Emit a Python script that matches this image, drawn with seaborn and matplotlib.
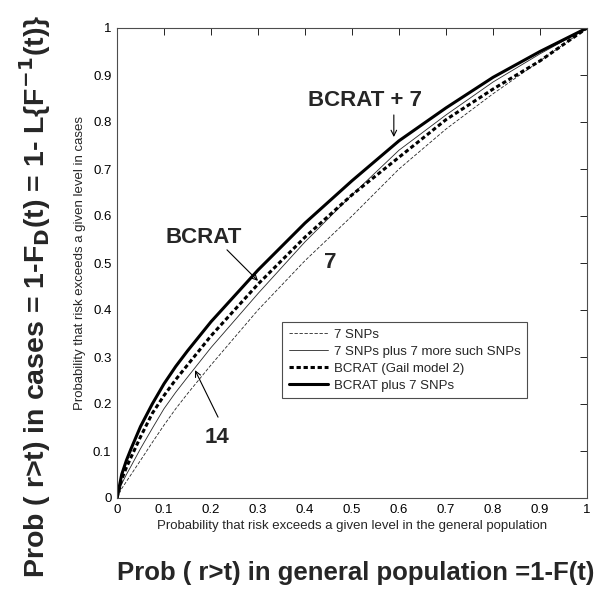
import matplotlib
matplotlib.use("Agg")
import matplotlib.pyplot as plt
import seaborn as sns
import pandas as pd

# Read-off values (x = P(risk > t) in general population)
x_pts = [0.0, 0.01, 0.02, 0.03, 0.05, 0.075, 0.1, 0.125, 0.15, 0.2, 0.3, 0.4, 0.5, 0.6, 0.7, 0.8, 0.9, 1.0]
snps7 = [0.0, 0.02, 0.035, 0.05, 0.08, 0.118, 0.155, 0.19, 0.222, 0.283, 0.40, 0.505, 0.60, 0.70, 0.785, 0.86, 0.93, 1.0]
snps14 = [0.0, 0.03, 0.05, 0.068, 0.105, 0.148, 0.19, 0.225, 0.257, 0.32, 0.435, 0.545, 0.645, 0.74, 0.815, 0.885, 0.945, 1.0]
bcrat = [0.0, 0.04, 0.065, 0.087, 0.13, 0.18, 0.218, 0.252, 0.283, 0.345, 0.455, 0.555, 0.645, 0.725, 0.805, 0.87, 0.93, 1.0]
bcrat7 = [0.0, 0.05, 0.08, 0.105, 0.152, 0.20, 0.243, 0.28, 0.313, 0.375, 0.485, 0.585, 0.675, 0.76, 0.83, 0.895, 0.95, 1.0]

labels = ["7 SNPs", "7 SNPs plus 7 more such SNPs", "BCRAT (Gail model 2)", "BCRAT plus 7 SNPs"]
series = [snps7, snps14, bcrat, bcrat7]
ticks = [0, 0.1, 0.2, 0.3, 0.4, 0.5, 0.6, 0.7, 0.8, 0.9, 1]
tick_labels = ["0", "0.1", "0.2", "0.3", "0.4", "0.5", "0.6", "0.7", "0.8", "0.9", "1"]

sns.set_style("white")
plt.rcParams["font.family"] = ["Liberation Sans", "DejaVu Sans"]

W, H = 611, 590
fig = plt.figure(figsize=(W / 100, H / 100), dpi=100)
ax = fig.add_axes([117 / W, (H - 498) / H, 470 / W, 470 / H])

styles = [
    dict(lw=0.6, ls=(0, (4, 2)), color="0.15"),
    dict(lw=0.6, ls="-", color="0.15"),
    dict(lw=2.2, ls=(0, (1.4, 0.9)), color="black"),
    dict(lw=2.2, ls="-", color="black"),
]
for lab, ys, st in zip(labels, series, styles):
    df = pd.DataFrame({"x": x_pts, "y": ys})
    sns.lineplot(data=df, x="x", y="y", ax=ax, label=lab, color=st["color"],
                 linewidth=st["lw"], linestyle=st["ls"], sort=False)

ax.set_xlim(0, 1)
ax.set_ylim(0, 1)
ax.set_xticks(ticks)
ax.set_yticks(ticks)
ax.set_xticklabels(tick_labels)
ax.set_yticklabels(tick_labels)
ax.tick_params(direction="in", top=True, right=True, length=5, width=0.6,
               labelsize=9.5, pad=4, colors="black")
for sp in ax.spines.values():
    sp.set_visible(True)
    sp.set_color("0.3")
    sp.set_linewidth(0.8)

ax.set_xlabel("Probability that risk exceeds a given level in the general population",
              fontsize=9.5, labelpad=3)
ax.set_ylabel("Probability that risk exceeds a given level in cases",
              fontsize=9.5, labelpad=5)

leg = ax.legend(loc="upper left", bbox_to_anchor=(0.351, 0.374), fontsize=9.5,
                handlelength=3.0, handletextpad=0.45, borderpad=0.5,
                labelspacing=0.35, fancybox=False, framealpha=1, borderaxespad=0)
leg.get_frame().set_edgecolor("0.3")
leg.get_frame().set_linewidth(0.8)

arr = dict(arrowstyle="->", lw=0.8, color="black", shrinkA=0, shrinkB=0)
ax.text(0.527, 0.845, "BCRAT + 7", fontsize=16, fontweight="bold", ha="center", va="center")
ax.annotate("", xy=(0.589, 0.768), xytext=(0.589, 0.815), arrowprops=arr)
ax.text(0.185, 0.555, "BCRAT", fontsize=16, fontweight="bold", ha="center", va="center")
ax.annotate("", xy=(0.30, 0.462), xytext=(0.234, 0.528), arrowprops=arr)
ax.text(0.453, 0.502, "7", fontsize=16, fontweight="bold", ha="center", va="center")
ax.text(0.213, 0.128, "14", fontsize=16, fontweight="bold", ha="center", va="center")
ax.annotate("", xy=(0.166, 0.272), xytext=(0.215, 0.172), arrowprops=arr)

fig.text(356 / W, 1 - 573 / H, "Prob ( r>t) in general population =1-F(t)",
         fontsize=18.5, fontweight="bold", ha="center", va="center")
fig.text(35 / W, 1 - 296 / H, r"Prob ( r>t) in cases = 1-F$_{\mathbf{D}}$(t) = 1- L{F$^{\mathbf{-1}}$(t)}",
         fontsize=20.5, fontweight="bold", ha="center", va="center", rotation=90)

fig.savefig("out.png", dpi=100)
